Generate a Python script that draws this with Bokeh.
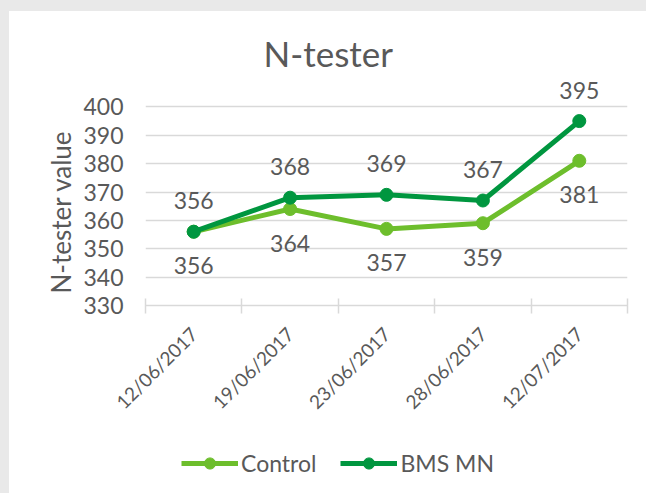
import math
from bokeh.plotting import figure
from bokeh.models import ColumnDataSource, FixedTicker, Range1d, Legend, LegendItem, Title
from bokeh.layouts import column
from bokeh.embed import file_html
from bokeh.resources import INLINE
from bokeh.core.properties import value

dates = ["12/06/2017", "19/06/2017", "23/06/2017", "28/06/2017", "12/07/2017"]
control = [356, 364, 357, 359, 381]
bms_mn = [356, 368, 369, 367, 395]
y_ticks = [330, 340, 350, 360, 370, 380, 390, 400]
series_names = ["Control", "BMS MN"]

FONT = "Lato"
TXT = "#595959"
C_CONTROL = "#6DBE2C"
C_BMS = "#00963F"

xs = [i + 0.5 for i in range(len(dates))]
src = ColumnDataSource(dict(
    x=xs, control=control, bms=bms_mn,
    control_lbl=[str(v) for v in control], bms_lbl=[str(v) for v in bms_mn]))

p = figure(width=637, height=429, output_backend="svg", toolbar_location=None,
           x_range=Range1d(0, len(dates)), y_range=Range1d(330, 410),
           min_border_left=136, min_border_right=19, min_border_top=67, min_border_bottom=135)
p.outline_line_color = None
p.background_fill_color = "white"
p.border_fill_color = "white"

p.title.text = "N-tester"
p.title.text_font = FONT
p.title.text_font_size = "35px"
p.title.text_font_style = "normal"
p.title.text_color = TXT
p.title.align = "left"
p.title.offset = 118

# y axis
p.yaxis.ticker = FixedTicker(ticks=y_ticks)
p.yaxis.axis_line_color = None
p.yaxis.major_tick_line_color = None
p.yaxis.major_tick_out = 0
p.yaxis.major_tick_in = 0
p.yaxis.minor_tick_line_color = None
p.yaxis.major_label_standoff = 22
p.yaxis.major_label_text_font = FONT
p.yaxis.major_label_text_font_size = "23px"
p.yaxis.major_label_text_color = TXT
p.ygrid.ticker = FixedTicker(ticks=y_ticks[1:])
p.ygrid.grid_line_color = "#D9D9D9"
p.ygrid.grid_line_width = 1.5

# y axis title, centred on the 330-400 band
ytitle = Title(text="N-tester value", align="left", offset=12, standoff=8,
               text_font=FONT, text_font_size="26px", text_font_style="normal",
               text_color=TXT)
p.add_layout(ytitle, "left")

# x axis: labels at category centres, tick marks at boundaries
p.xaxis.ticker = FixedTicker(ticks=xs, minor_ticks=list(range(len(dates) + 1)))
p.xaxis.major_label_overrides = {x: d for x, d in zip(xs, dates)}
p.xaxis.major_tick_line_color = None
p.xaxis.minor_tick_line_color = "#D9D9D9"
p.xaxis.minor_tick_line_width = 1.5
p.xaxis.minor_tick_in = 7
p.xaxis.minor_tick_out = 8
p.xaxis.axis_line_color = "#D9D9D9"
p.xaxis.axis_line_width = 1.5
p.xaxis.major_label_orientation = math.pi / 4
p.xaxis.major_label_standoff = 17
p.xaxis.major_label_text_font = FONT
p.xaxis.major_label_text_font_size = "19px"
p.xaxis.major_label_text_color = TXT
p.xgrid.grid_line_color = None

p.line("x", "control", source=src, line_color=C_CONTROL, line_width=5)
p.scatter("x", "control", source=src, size=13, fill_color=C_CONTROL, line_color=C_CONTROL)
p.line("x", "bms", source=src, line_color=C_BMS, line_width=5)
p.scatter("x", "bms", source=src, size=13, fill_color=C_BMS, line_color=C_BMS)

p.text("x", "control", text="control_lbl", source=src, y_offset=34,
       text_align="center", text_baseline="middle", text_font=value(FONT),
       text_font_size="23px", text_color=TXT)
p.text("x", "bms", text="bms_lbl", source=src, y_offset=-31,
       text_align="center", text_baseline="middle", text_font=value(FONT),
       text_font_size="23px", text_color=TXT)

# legend strip below the chart (proxy glyphs carry only the series styles)
lf = figure(width=637, height=53, output_backend="svg", toolbar_location=None,
            x_range=Range1d(0, 1), y_range=Range1d(0, 1),
            min_border_left=0, min_border_right=0, min_border_top=0, min_border_bottom=0)
lf.axis.visible = False
lf.grid.visible = False
lf.outline_line_color = None
lf.background_fill_color = "white"
lf.border_fill_color = "white"
items = []
nan = float("nan")
for name, col in zip(series_names, [C_CONTROL, C_BMS]):
    lr = lf.line(x=[nan], y=[nan], line_color=col, line_width=5)
    cr = lf.scatter(x=[nan], y=[nan], size=13, fill_color=col, line_color=col)
    items.append(LegendItem(label=name, renderers=[lr, cr]))
legend = Legend(items=items, orientation="horizontal", location=(36, 16),
                glyph_width=57, glyph_height=28, label_standoff=3, spacing=24,
                label_text_font=FONT, label_text_font_size="23px", label_text_color=TXT,
                label_height=28, border_line_color=None, background_fill_alpha=0,
                padding=0, margin=0)
lf.add_layout(legend)

layout = column(p, lf, spacing=0, styles={"background-color": "white"})
html = file_html(layout, INLINE)
i = html.rfind("<body")
html = (html[:i] + '<body style="margin:0;padding:11px 0 0 9px;background:#E9E9E9"'
        + html[i + len("<body"):])
open("out.html", "w").write(html)
